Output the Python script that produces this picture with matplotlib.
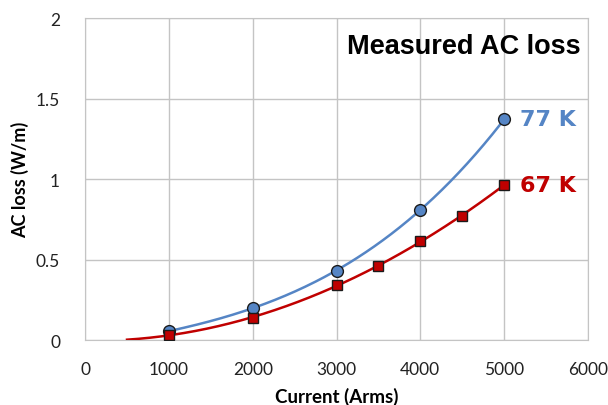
import matplotlib
matplotlib.use("Agg")
import matplotlib.pyplot as plt
import numpy as np

# measured points
current_77 = [1000, 2000, 3000, 4000, 5000]
loss_77 = [0.055, 0.20, 0.43, 0.81, 1.37]
current_67 = [1000, 2000, 3000, 3500, 4000, 4500, 5000]
loss_67 = [0.03, 0.14, 0.34, 0.46, 0.615, 0.77, 0.965]

xticks = [0, 1000, 2000, 3000, 4000, 5000, 6000]
yticks = [0, 0.5, 1, 1.5, 2]
ytick_labels = ['0', '0.5', '1', '1.5', '2']

blue = '#5585C5'
red = '#C00000'


def poly_trend(x, y, order, x_from, x_to):
    '''polynomial trendline like the spreadsheet one'''
    coef = np.polyfit(x, y, order)
    xs = np.linspace(x_from, x_to, 200)
    return xs, np.polyval(coef, xs)


fig = plt.figure(figsize=(6.08, 4.06), dpi=100)
ax = fig.add_axes([0.140, 0.160, 0.827, 0.793])

xs, ys = poly_trend(current_67, loss_67, 2, 500, 5000)
ax.plot(xs, ys, color=red, lw=1.8, zorder=3)
xs, ys = poly_trend(current_77, loss_77, 3, 1000, 5000)
ax.plot(xs, ys, color=blue, lw=1.8, zorder=3)

ax.plot(current_77, loss_77, 'o', ms=8.5, mfc=blue, mec='#1a1a1a', mew=1.0, zorder=4)
ax.plot(current_67, loss_67, 's', ms=7.5, mfc=red, mec='#1a1a1a', mew=1.0, zorder=4)

ax.set_xlim(0, 6000)
ax.set_ylim(0, 2)
ax.set_xticks(xticks)
ax.set_xticklabels([str(t) for t in xticks], family='Lato', fontsize=12.5)
ax.set_yticks(yticks)
ax.set_yticklabels(ytick_labels, family='Lato', fontsize=12.5)
ax.tick_params(length=0, colors='#222222')
ax.tick_params(axis='x', pad=15)
ax.tick_params(axis='y', pad=18)
ax.grid(True, color='#c4c4c4', lw=1.0)
ax.set_axisbelow(True)
for sp in ax.spines.values():
    sp.set_color('#c4c4c4')

ax.set_xlabel('Current (Arms)', family='Lato', fontweight='bold', fontsize=13.5, labelpad=7)
ax.set_ylabel('AC loss (W/m)', family='Lato', fontweight='bold', fontsize=13, labelpad=5)

ax.text(0.985, 0.913, 'Measured AC loss', transform=ax.transAxes, ha='right', va='center',
        family='Liberation Sans', fontweight='bold', fontsize=19.5, color='black')
ax.text(current_77[-1] + 190, loss_77[-1], '77 K', ha='left', va='center',
        family='DejaVu Sans', fontweight='bold', fontsize=16, color=blue)
ax.text(current_67[-1] + 190, loss_67[-1], '67 K', ha='left', va='center',
        family='DejaVu Sans', fontweight='bold', fontsize=16, color=red)

fig.savefig('out.png', dpi=100)
